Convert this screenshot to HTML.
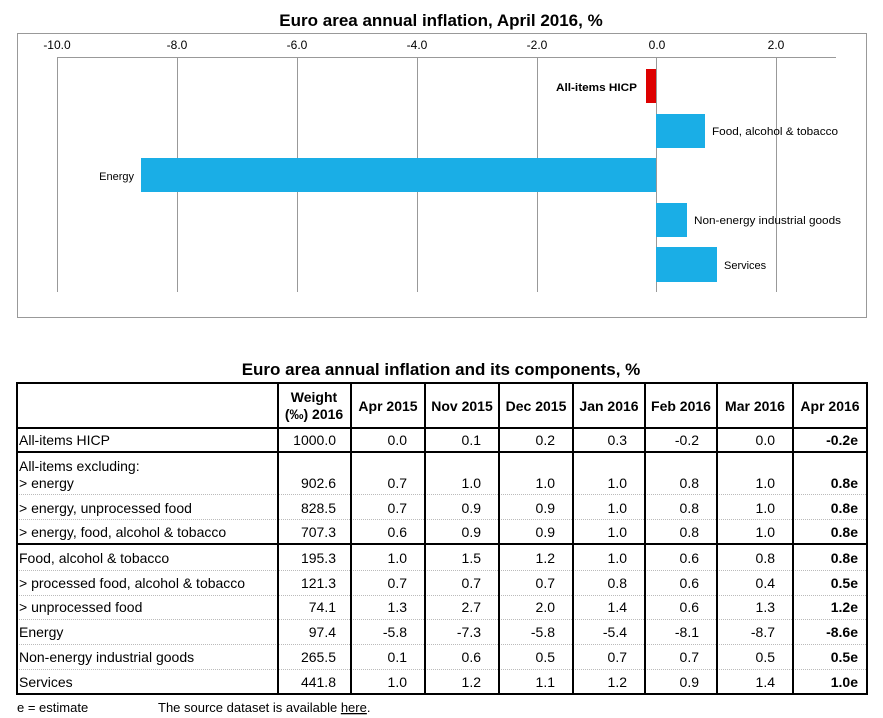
<!DOCTYPE html>
<html><head><meta charset="utf-8"><style>
html,body{margin:0;padding:0;background:#fff;}
svg{display:block;font-family:"Liberation Sans",Arial,sans-serif;}
</style></head><body>
<svg width="883" height="718" viewBox="0 0 883 718" xmlns="http://www.w3.org/2000/svg">
<text x="441" y="26" text-anchor="middle" font-size="17" font-weight="bold">Euro area annual inflation, April 2016, %</text>
<rect x="17.5" y="33.5" width="849" height="284" fill="none" stroke="#999" stroke-width="1"/>
<g stroke="#999" stroke-width="1">
<line x1="57" y1="57.5" x2="836" y2="57.5"/>
<line x1="57.5" y1="57" x2="57.5" y2="292"/>
<line x1="177.5" y1="57" x2="177.5" y2="292"/>
<line x1="297.5" y1="57" x2="297.5" y2="292"/>
<line x1="417.5" y1="57" x2="417.5" y2="292"/>
<line x1="537.5" y1="57" x2="537.5" y2="292"/>
<line x1="656.5" y1="57" x2="656.5" y2="292"/>
<line x1="776.5" y1="57" x2="776.5" y2="292"/>
</g>
<g font-size="12" text-anchor="middle">
<text x="57" y="49">-10.0</text><text x="177" y="49">-8.0</text><text x="297" y="49">-6.0</text>
<text x="417" y="49">-4.0</text><text x="537" y="49">-2.0</text><text x="657" y="49">0.0</text><text x="776" y="49">2.0</text>
</g>
<rect x="646" y="69" width="10" height="34" fill="#dd0000"/>
<rect x="656" y="114" width="49" height="34" fill="#1aaee6"/>
<rect x="141" y="158" width="515" height="34" fill="#1aaee6"/>
<rect x="656" y="203" width="31" height="34" fill="#1aaee6"/>
<rect x="656" y="247" width="61" height="35" fill="#1aaee6"/>
<g font-size="11">
<text x="637" y="91" text-anchor="end" font-weight="bold" textLength="81" lengthAdjust="spacingAndGlyphs">All-items HICP</text>
<text x="712" y="135" textLength="126" lengthAdjust="spacingAndGlyphs">Food, alcohol &amp; tobacco</text>
<text x="134" y="180" text-anchor="end">Energy</text>
<text x="694" y="224" textLength="147" lengthAdjust="spacingAndGlyphs">Non-energy industrial goods</text>
<text x="724" y="269">Services</text>
</g>

<text x="441" y="375" text-anchor="middle" font-size="17" font-weight="bold">Euro area annual inflation and its components, %</text>
<g stroke="#bbb" stroke-width="1" stroke-dasharray="1,1">
<line x1="17" y1="494.5" x2="867" y2="494.5"/>
<line x1="17" y1="519.5" x2="867" y2="519.5"/>
<line x1="17" y1="570.5" x2="867" y2="570.5"/>
<line x1="17" y1="595.5" x2="867" y2="595.5"/>
<line x1="17" y1="619.5" x2="867" y2="619.5"/>
<line x1="17" y1="644.5" x2="867" y2="644.5"/>
<line x1="17" y1="669.5" x2="867" y2="669.5"/>
</g>
<g stroke="#000" stroke-width="2">
<rect x="17" y="383" width="850" height="311" fill="none"/>
<line x1="17" y1="428" x2="867" y2="428"/>
<line x1="17" y1="452" x2="867" y2="452"/>
<line x1="17" y1="544" x2="867" y2="544"/>
<line x1="278" y1="383" x2="278" y2="694"/>
<line x1="351" y1="383" x2="351" y2="694"/>
<line x1="425" y1="383" x2="425" y2="694"/>
<line x1="499" y1="383" x2="499" y2="694"/>
<line x1="573" y1="383" x2="573" y2="694"/>
<line x1="645" y1="383" x2="645" y2="694"/>
<line x1="717" y1="383" x2="717" y2="694"/>
<line x1="793" y1="383" x2="793" y2="694"/>
</g>
<g font-size="14" font-weight="bold" text-anchor="middle">
<text x="314" y="402">Weight</text><text x="314" y="419">(‰) 2016</text>
<text x="388" y="411">Apr 2015</text><text x="462" y="411">Nov 2015</text><text x="536" y="411">Dec 2015</text>
<text x="609" y="411">Jan 2016</text><text x="681" y="411">Feb 2016</text><text x="755" y="411">Mar 2016</text><text x="830" y="411">Apr 2016</text>
</g>
<g font-size="14">
<text x="19" y="445">All-items HICP</text>
<text x="19" y="471">All-items excluding:</text>
<text x="19" y="488">&gt; energy</text>
<text x="19" y="513">&gt; energy, unprocessed food</text>
<text x="19" y="537">&gt; energy, food, alcohol &amp; tobacco</text>
<text x="19" y="563">Food, alcohol &amp; tobacco</text>
<text x="19" y="588">&gt; processed food, alcohol &amp; tobacco</text>
<text x="19" y="612">&gt; unprocessed food</text>
<text x="19" y="637">Energy</text>
<text x="19" y="662">Non-energy industrial goods</text>
<text x="19" y="687">Services</text>
</g>
<g font-size="14" text-anchor="end">
<g transform="translate(0,445)"><text x="336">1000.0</text><text x="407">0.0</text><text x="481">0.1</text><text x="555">0.2</text><text x="627">0.3</text><text x="699">-0.2</text><text x="775">0.0</text><text x="858" font-weight="bold">-0.2e</text></g>
<g transform="translate(0,488)"><text x="336">902.6</text><text x="407">0.7</text><text x="481">1.0</text><text x="555">1.0</text><text x="627">1.0</text><text x="699">0.8</text><text x="775">1.0</text><text x="858" font-weight="bold">0.8e</text></g>
<g transform="translate(0,513)"><text x="336">828.5</text><text x="407">0.7</text><text x="481">0.9</text><text x="555">0.9</text><text x="627">1.0</text><text x="699">0.8</text><text x="775">1.0</text><text x="858" font-weight="bold">0.8e</text></g>
<g transform="translate(0,537)"><text x="336">707.3</text><text x="407">0.6</text><text x="481">0.9</text><text x="555">0.9</text><text x="627">1.0</text><text x="699">0.8</text><text x="775">1.0</text><text x="858" font-weight="bold">0.8e</text></g>
<g transform="translate(0,563)"><text x="336">195.3</text><text x="407">1.0</text><text x="481">1.5</text><text x="555">1.2</text><text x="627">1.0</text><text x="699">0.6</text><text x="775">0.8</text><text x="858" font-weight="bold">0.8e</text></g>
<g transform="translate(0,588)"><text x="336">121.3</text><text x="407">0.7</text><text x="481">0.7</text><text x="555">0.7</text><text x="627">0.8</text><text x="699">0.6</text><text x="775">0.4</text><text x="858" font-weight="bold">0.5e</text></g>
<g transform="translate(0,612)"><text x="336">74.1</text><text x="407">1.3</text><text x="481">2.7</text><text x="555">2.0</text><text x="627">1.4</text><text x="699">0.6</text><text x="775">1.3</text><text x="858" font-weight="bold">1.2e</text></g>
<g transform="translate(0,637)"><text x="336">97.4</text><text x="407">-5.8</text><text x="481">-7.3</text><text x="555">-5.8</text><text x="627">-5.4</text><text x="699">-8.1</text><text x="775">-8.7</text><text x="858" font-weight="bold">-8.6e</text></g>
<g transform="translate(0,662)"><text x="336">265.5</text><text x="407">0.1</text><text x="481">0.6</text><text x="555">0.5</text><text x="627">0.7</text><text x="699">0.7</text><text x="775">0.5</text><text x="858" font-weight="bold">0.5e</text></g>
<g transform="translate(0,687)"><text x="336">441.8</text><text x="407">1.0</text><text x="481">1.2</text><text x="555">1.1</text><text x="627">1.2</text><text x="699">0.9</text><text x="775">1.4</text><text x="858" font-weight="bold">1.0e</text></g>
</g>
<g font-size="13">
<text x="17" y="712">e = estimate</text>
<text x="158" y="712">The source dataset is available <tspan text-decoration="underline">here</tspan>.</text>
</g>
</svg>
</body></html>
